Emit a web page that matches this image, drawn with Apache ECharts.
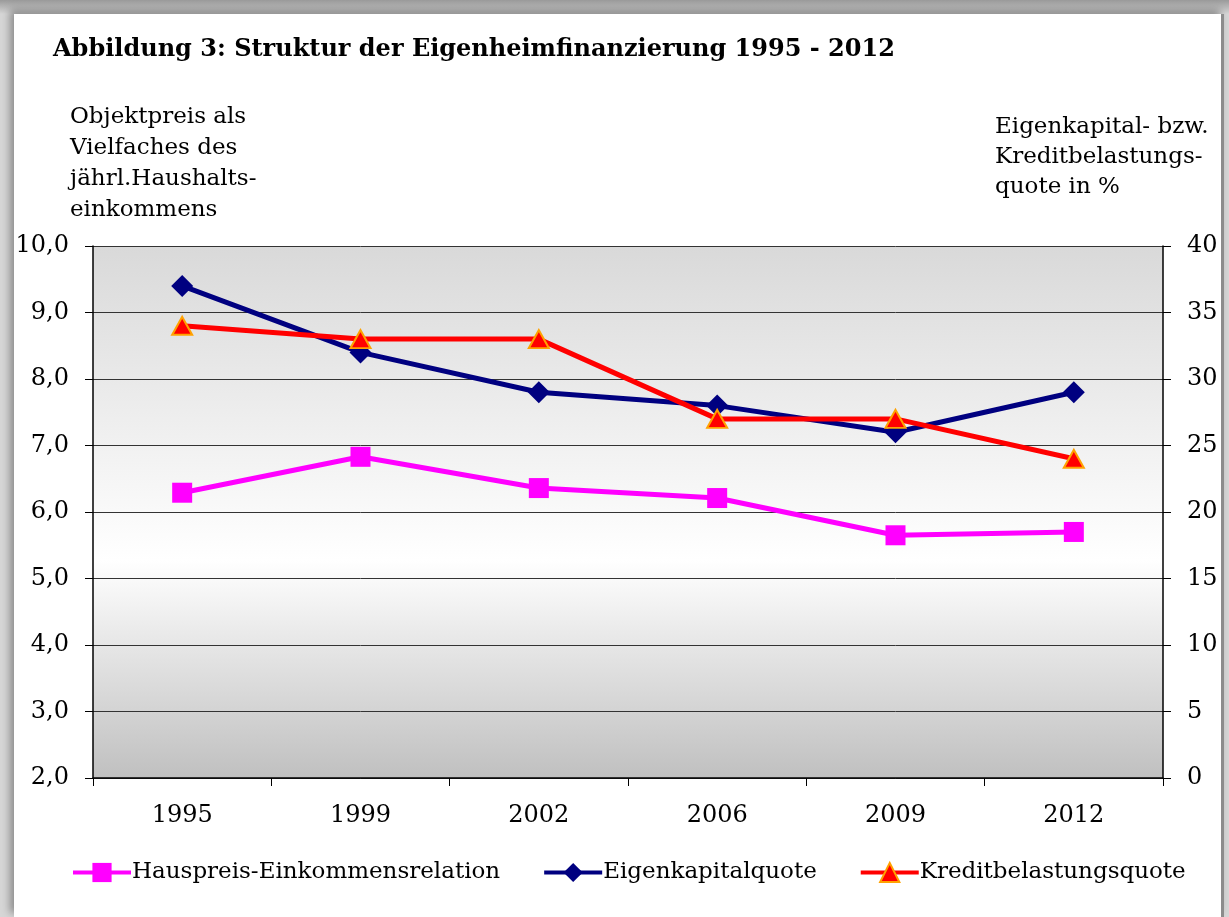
<!DOCTYPE html>
<html>
<head>
<meta charset="utf-8">
<script src="https://cdn.jsdelivr.net/npm/echarts@6/dist/echarts.min.js"></script>
<style>
  html, body { margin: 0; padding: 0; width: 1229px; height: 917px; overflow: hidden; background: #fff; }
  #frame { position: absolute; left: 0; top: 0; width: 1229px; height: 917px;
           background: linear-gradient(to bottom, #9a9a9a, #d6d6d6 14px, #d6d6d6); }
  #panel { position: absolute; left: 14px; top: 14px; width: 1207px; height: 903px; background: #fff;
           box-shadow: -4px -4px 8px rgba(0,0,0,0.35); border-right: 3px solid #8c8c8c; }
  #chart { position: absolute; left: 0; top: 0; width: 1229px; height: 917px; }
</style>
</head>
<body>
<div id="frame"></div>
<div id="panel"></div>
<div id="chart"></div>
<script>
    var years = ['1995', '1999', '2002', '2006', '2009', '2012'];
    // Objektpreis als Vielfaches des Haushaltseinkommens (linke Achse)
    var hauspreis = [6.29, 6.83, 6.36, 6.21, 5.65, 5.70];
    // Quoten in % (rechte Achse)
    var eigenkapital = [37, 32, 29, 28, 26, 29];
    var kredit = [34, 33, 33, 27, 27, 24];

    var serif = 'DejaVu Serif';
    var chart = echarts.init(document.getElementById('chart'), null, { renderer: 'canvas' });

    var option = {
        backgroundColor: 'transparent',
        textStyle: { fontFamily: serif, color: '#000' },
        title: {
            text: 'Abbildung 3: Struktur der Eigenheimfinanzierung 1995 - 2012',
            left: 48,
            top: 33,
            textStyle: { fontFamily: serif, fontSize: 24, fontWeight: 'bold', color: '#000' }
        },
        legend: {
            bottom: 28,
            left: 66,
            itemWidth: 58,
            itemHeight: 24,
            itemGap: 42,
            lineStyle: { width: 4 },
            textStyle: { fontFamily: serif, fontSize: 23, color: '#000', padding: [0, 0, 0, -4] },
            data: ['Hauspreis-Einkommensrelation', 'Eigenkapitalquote', 'Kreditbelastungsquote']
        },
        grid: {
            left: 93,
            right: 66,
            top: 246,
            bottom: 139,
            show: true,
            borderWidth: 0,
            backgroundColor: new echarts.graphic.LinearGradient(0, 0, 0, 1, [
                { offset: 0, color: '#d9d9d9' },
                { offset: 0.59, color: '#ffffff' },
                { offset: 1, color: '#c0c0c0' }
            ])
        },
        xAxis: {
            type: 'category',
            data: years,
            boundaryGap: true,
            axisLine: { lineStyle: { color: '#000', width: 1.5 } },
            axisTick: { show: true, length: 8, lineStyle: { color: '#000' } },
            axisLabel: { fontFamily: serif, fontSize: 24, color: '#000', margin: 26 }
        },
        yAxis: [
            {
                type: 'value',
                min: 2,
                max: 10,
                interval: 1,
                position: 'left',
                name: 'Objektpreis als\nVielfaches des\njährl.Haushalts-\neinkommens',
                nameLocation: 'end',
                nameGap: 20,
                nameTextStyle: { fontFamily: serif, fontSize: 23, color: '#000', align: 'left',
                                 lineHeight: 31, padding: [0, 0, 0, -23] },
                axisLine: { show: true, lineStyle: { color: '#000', width: 1.5 } },
                axisTick: { show: true, length: 8, lineStyle: { color: '#000' } },
                axisLabel: { fontFamily: serif, fontSize: 24, color: '#000', margin: 24,
                             formatter: function (v) { return v.toFixed(1).replace('.', ','); } },
                splitLine: { show: true, lineStyle: { color: '#333', width: 1 } }
            },
            {
                type: 'value',
                min: 0,
                max: 40,
                interval: 5,
                position: 'right',
                name: 'Eigenkapital- bzw.\nKreditbelastungs-\nquote in %',
                nameLocation: 'end',
                nameGap: 44,
                nameTextStyle: { fontFamily: serif, fontSize: 23, color: '#000', align: 'left',
                                 lineHeight: 30, padding: [0, 0, 0, -168] },
                axisLine: { show: true, lineStyle: { color: '#000', width: 1.5 } },
                axisTick: { show: true, length: 8, lineStyle: { color: '#000' } },
                axisLabel: { fontFamily: serif, fontSize: 24, color: '#000', margin: 24 },
                splitLine: { show: false }
            }
        ],
        series: [
            {
                name: 'Hauspreis-Einkommensrelation',
                type: 'line',
                yAxisIndex: 0,
                data: hauspreis,
                symbol: 'rect',
                symbolSize: 20,
                lineStyle: { color: '#ff00ff', width: 5 },
                itemStyle: { color: '#ff00ff' }
            },
            {
                name: 'Eigenkapitalquote',
                type: 'line',
                yAxisIndex: 1,
                data: eigenkapital,
                symbol: 'diamond',
                symbolSize: [22, 22],
                lineStyle: { color: '#000080', width: 5 },
                itemStyle: { color: '#000080' }
            },
            {
                name: 'Kreditbelastungsquote',
                type: 'line',
                yAxisIndex: 1,
                data: kredit,
                symbol: 'triangle',
                symbolSize: [20, 18],
                lineStyle: { color: '#ff0000', width: 5 },
                itemStyle: { color: '#ff0000', borderColor: '#ffa200', borderWidth: 2 }
            }
        ]
    };
    chart.setOption(option);
</script>
</body>
</html>
